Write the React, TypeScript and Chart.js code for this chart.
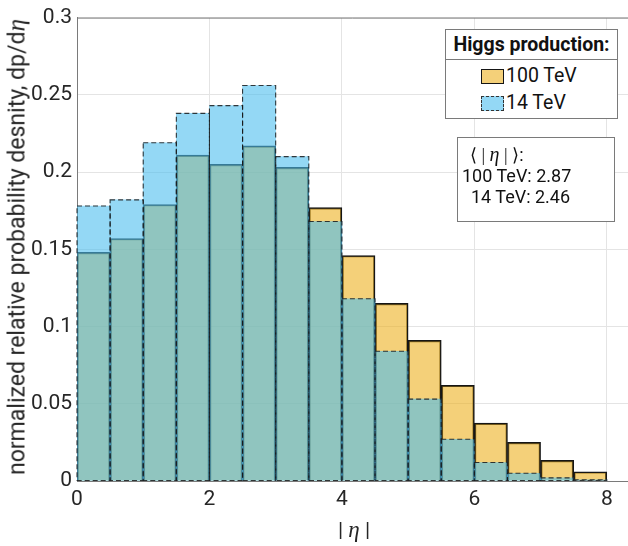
import React, { useEffect, useRef } from "react";
import { Chart, registerables } from "chart.js";

Chart.register(...registerables);

// bin centres of |eta| (bin width 0.5)
const binCenters = [0.25, 0.75, 1.25, 1.75, 2.25, 2.75, 3.25, 3.75, 4.25, 4.75, 5.25, 5.75, 6.25, 6.75, 7.25, 7.75];
// 100 TeV distribution
const tev100 = [0.148, 0.157, 0.179, 0.211, 0.205, 0.217, 0.203, 0.177, 0.146, 0.115, 0.091, 0.062, 0.0375, 0.025, 0.0134, 0.006];
// 14 TeV distribution
const tev14 = [0.178, 0.182, 0.219, 0.238, 0.243, 0.256, 0.21, 0.168, 0.118, 0.084, 0.053, 0.027, 0.012, 0.005, 0.002, 0.0007];
const xTicks = [0, 2, 4, 6, 8];
const yTicks = [0, 0.05, 0.1, 0.15, 0.2, 0.25, 0.3];

const ORANGE = "rgba(237,177,32,0.6)";
const BLUE = "rgba(77,190,238,0.6)";
const TEXT = "#262626";
const FONT = "Roboto";

const dashPlugin = {
  id: "dashOutline",
  afterDatasetDraw(chart: any, args: any) {
    if (args.index !== 0) return;
    const ctx = chart.ctx;
    ctx.save();
    ctx.setLineDash([5, 3]);
    ctx.lineWidth = 1.1;
    ctx.strokeStyle = "rgba(25,25,25,0.85)";
    args.meta.data.forEach((el: any) => {
      const p = el.getProps(["x", "y", "base", "width"], true);
      ctx.strokeRect(p.x - p.width / 2, Math.min(p.y, p.base), p.width, Math.abs(p.base - p.y));
    });
    ctx.restore();
  },
};

const framePlugin = {
  id: "frame",
  afterDraw(chart: any) {
    const { ctx, chartArea } = chart;
    ctx.save();
    ctx.strokeStyle = "#7a7a7a";
    ctx.lineWidth = 1;
    ctx.beginPath();
    ctx.moveTo(chartArea.left, chartArea.top + 0.5);
    ctx.lineTo(chartArea.right, chartArea.top + 0.5);
    ctx.stroke();
    ctx.restore();
  },
};

export default function App() {
  const ref = useRef<HTMLCanvasElement | null>(null);

  useEffect(() => {
    if (!ref.current) return;
    const chart = new Chart(ref.current, {
      type: "bar",
      data: {
        datasets: [
          {
            label: "14 TeV",
            data: binCenters.map((c, i) => ({ x: c, y: tev14[i] })),
            backgroundColor: BLUE,
            borderWidth: 0,
            grouped: false,
            order: 0,
            barPercentage: 1,
            categoryPercentage: 1,
          } as any,
          {
            label: "100 TeV",
            data: binCenters.map((c, i) => ({ x: c, y: tev100[i] })),
            backgroundColor: ORANGE,
            borderColor: "#151515",
            borderWidth: 1.5,
            grouped: false,
            order: 1,
            barPercentage: 1,
            categoryPercentage: 1,
          } as any,
        ],
      },
      options: {
        animation: false,
        responsive: false,
        devicePixelRatio: 1,
        layout: { padding: { left: 0, right: 0, top: 11, bottom: 0 }, autoPadding: false } as any,
        plugins: { legend: { display: false }, tooltip: { enabled: false } },
        scales: {
          x: {
            type: "linear",
            offset: false,
            min: 0,
            max: 8.32,
            afterBuildTicks: (s: any) => {
              s.ticks = xTicks.map((v) => ({ value: v }));
            },
            afterFit: (s: any) => {
              s.height = 65;
            },
            ticks: { color: TEXT, font: { family: FONT, size: 21 }, padding: 6 },
            grid: { color: "#e4e4e4", lineWidth: 1, drawTicks: false, offset: false },
            border: { color: "#7a7a7a", width: 1 },
          } as any,
          y: {
            type: "linear",
            min: 0,
            max: 0.3,
            afterBuildTicks: (s: any) => {
              s.ticks = yTicks.map((v) => ({ value: v }));
            },
            afterFit: (s: any) => {
              s.width = 77;
            },
            ticks: {
              color: TEXT,
              font: { family: FONT, size: 21 },
              padding: 5,
              callback: (v: any) => String(+Number(v).toFixed(2)),
            },
            grid: { color: "#e4e4e4", lineWidth: 1, drawTicks: false },
            border: { color: "#7a7a7a", width: 1 },
          },
        },
      },
      plugins: [dashPlugin, framePlugin],
    });
    return () => chart.destroy();
  }, []);

  const eta = (size: number) => (
    <span style={{ fontFamily: "'Liberation Serif', serif", fontStyle: "italic", fontSize: size }}>η</span>
  );

  return (
    <div style={{ position: "absolute", left: 0, top: 0, width: 628, height: 546, fontFamily: FONT, color: TEXT, overflow: "hidden" }}>
      <canvas ref={ref} width={628} height={546} style={{ position: "absolute", left: 0, top: 0, width: 628, height: 546 }} />
      {/* y axis title */}
      <div
        style={{
          position: "absolute",
          left: 17,
          top: 247,
          transform: "translate(-50%, -50%) rotate(-90deg)",
          whiteSpace: "nowrap",
          fontSize: 23,
          lineHeight: "24px",
        }}
      >
        normalized relative probability desnity, dp/d{eta(25)}
      </div>
      {/* x axis title */}
      <div
        style={{
          position: "absolute",
          left: 354,
          top: 530,
          transform: "translate(-50%, -50%)",
          whiteSpace: "pre",
          fontSize: 21,
          lineHeight: "24px",
        }}
      >
        {"| "}
        {eta(23)}
        {" |"}
      </div>
      {/* legend */}
      <div
        style={{
          position: "absolute",
          left: 445,
          top: 29,
          width: 171,
          height: 88,
          border: "1px solid #7a7a7a",
          background: "#fff",
        }}
      >
        <div
          style={{
            height: 29,
            borderBottom: "1px solid #7a7a7a",
            textAlign: "center",
            fontWeight: 700,
            fontSize: 19.5,
            lineHeight: "29px",
            color: "#111",
            whiteSpace: "nowrap",
          }}
        >
          Higgs production:
        </div>
        {[
          { label: "100 TeV", bg: ORANGE, border: "1.5px solid #151515", top: 38 },
          { label: "14 TeV", bg: BLUE, border: "1.3px dashed #333", top: 65 },
        ].map((it) => (
          <div key={it.label} style={{ position: "absolute", left: 35, top: it.top, display: "flex", alignItems: "center", height: 16 }}>
            <div style={{ width: 21, height: 13, background: it.bg, border: it.border }} />
            <div style={{ marginLeft: 2, fontSize: 19.5, lineHeight: "16px", color: "#111" }}>{it.label}</div>
          </div>
        ))}
      </div>
      {/* mean annotation */}
      <div
        style={{
          position: "absolute",
          left: 457,
          top: 137,
          width: 156,
          height: 83,
          border: "1px solid #7a7a7a",
          background: "#fff",
          fontSize: 18,
          lineHeight: "21px",
          whiteSpace: "pre",
          color: "#111",
        }}
      >
        <div style={{ position: "absolute", left: 12, top: 6 }}>
          <span style={{ fontFamily: "'Liberation Serif', serif" }}>{"⟨ | "}</span>
          {eta(20)}
          <span style={{ fontFamily: "'Liberation Serif', serif" }}>{" | ⟩"}</span>:
        </div>
        <div style={{ position: "absolute", left: 4, top: 27 }}>100 TeV: 2.87</div>
        <div style={{ position: "absolute", left: 4, top: 48 }}>{"  14 TeV: 2.46"}</div>
      </div>
    </div>
  );
}
